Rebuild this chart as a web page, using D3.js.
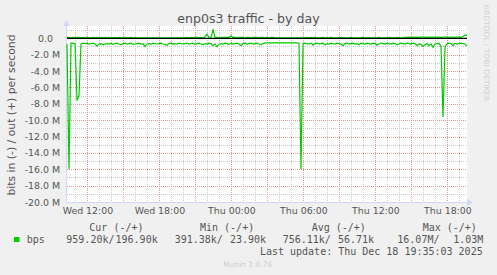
<!DOCTYPE html>
<html><head><meta charset="utf-8">
<script src="https://cdn.jsdelivr.net/npm/d3@7"></script>
<style>
html,body{margin:0;padding:0;background:#F0F0F0;}
svg{display:block;}
text{font-family:"DejaVu Sans",sans-serif;}
.mono{font-family:"DejaVu Sans Mono",monospace;white-space:pre;}
</style></head>
<body><svg id="c" width="497" height="275"></svg>
<script>
// ---- data (values in Mbit/s, 10-minute samples starting Wed 17 Dec 2025 10:18) ----
const title = "enp0s3 traffic - by day";
const yLabel = "bits in (-) / out (+) per second";
const seriesName = "bps";
const inValues = [
 0.7,16.0,0.6,0.6,0.65,7.6,7.0,0.7,0.6,0.65,0.6,0.7,0.65,0.6,0.7,0.95,0.7,0.65,0.8,0.7,
 0.65,0.7,0.6,0.75,0.65,0.6,0.7,0.8,0.65,0.6,0.7,0.65,0.6,0.75,0.7,0.65,0.6,0.7,0.65,1.0,
 0.75,0.65,0.7,0.6,0.65,0.7,0.65,0.6,0.7,0.75,0.85,0.65,0.6,0.7,0.65,0.7,0.6,0.65,0.7,0.65,
 0.6,0.7,0.65,0.6,0.75,0.65,0.6,0.7,0.8,0.65,0.7,0.6,0.65,0.9,0.7,1.05,0.75,0.65,0.7,0.6,
 0.65,0.75,0.6,0.7,0.65,0.6,0.7,0.9,0.65,0.6,0.7,0.65,0.6,0.7,0.65,0.6,0.7,0.8,0.65,0.6,
 0.55,0.55,0.55,0.55,0.55,0.55,0.55,0.55,0.55,0.55,0.55,0.55,0.55,0.55,0.55,0.55,0.6,16.0,0.7,0.6,
 0.65,0.7,0.6,0.85,0.65,0.6,0.7,0.65,0.6,0.8,0.65,0.7,0.6,0.65,0.7,0.6,0.65,0.7,0.9,0.65,
 0.6,0.7,0.65,0.6,0.7,0.65,0.8,0.6,0.65,0.7,0.6,0.65,0.7,0.6,0.65,0.85,0.7,0.6,0.65,0.7,
 0.6,0.65,0.7,0.6,0.65,0.8,0.7,0.6,0.65,0.7,0.6,0.65,0.7,0.6,0.65,0.9,0.7,0.75,1.0,0.8,
 0.65,0.9,0.7,1.1,0.7,0.65,0.6,1.0,9.6,1.0,0.7,0.6,0.65,0.9,0.6,0.7,0.65,0.6,0.65,0.7,
 0.95];
const outValues = [
 0.1,0.12,0.05,0.12,0.05,0.12,0.1,0.05,0.12,0.05,0.12,0.05,0.05,0.12,0.05,0.1,0.05,0.12,0.05,0.12,
 0.05,0.12,0.05,0.05,0.12,0.05,0.1,0.05,0.05,0.12,0.05,0.05,0.12,0.05,0.04,0.04,0.05,0.04,0.05,0.04,
 0.04,0.05,0.04,0.04,0.05,0.04,0.04,0.05,0.04,0.04,0.05,0.04,0.04,0.05,0.04,0.04,0.05,0.04,0.04,0.05,
 0.12,0.05,0.12,0.05,0.1,0.12,0.05,0.12,0.05,0.15,0.5,0.1,0.12,1.03,0.1,0.12,0.05,0.12,0.1,0.12,
 0.1,0.12,0.3,0.1,0.12,0.05,0.12,0.1,0.12,0.05,0.12,0.1,0.05,0.12,0.1,0.12,0.05,0.12,0.1,0.05,
 0.12,0.05,0.1,0.12,0.05,0.04,0.04,0.04,0.04,0.04,0.04,0.04,0.04,0.04,0.04,0.04,0.04,0.04,0.04,0.04,
 0.12,0.05,0.1,0.05,0.12,0.05,0.04,0.05,0.12,0.05,0.04,0.05,0.1,0.05,0.04,0.05,0.04,0.12,0.05,0.04,
 0.05,0.04,0.12,0.05,0.04,0.05,0.04,0.05,0.12,0.05,0.04,0.05,0.04,0.05,0.04,0.05,0.12,0.05,0.04,0.05,
 0.04,0.12,0.05,0.04,0.05,0.12,0.05,0.04,0.05,0.12,0.12,0.15,0.12,0.15,0.12,0.15,0.12,0.15,0.15,0.12,
 0.15,0.12,0.15,0.15,0.12,0.15,0.15,0.12,0.15,0.15,0.15,0.12,0.15,0.15,0.12,0.15,0.15,0.12,0.25,0.4,
 0.35];
const yTickValues = [0,-2,-4,-6,-8,-10,-12,-14,-16,-18,-20];
const yTickLabels = ["0.0","-2.0 M","-4.0 M","-6.0 M","-8.0 M","-10.0 M","-12.0 M","-14.0 M","-16.0 M","-18.0 M","-20.0 M"];
const xTickLabels = ["Wed 12:00","Wed 18:00","Thu 00:00","Thu 06:00","Thu 12:00","Thu 18:00"];
const legendHeaders = ["Cur (-/+)","Min (-/+)","Avg (-/+)","Max (-/+)"];
const legendIn = ["959.20k/","391.38k/","756.11k/","16.07M/"];
const legendOut = ["196.90k","23.90k","56.71k","1.03M"];
const lastUpdate = "Last update: Thu Dec 18 19:35:03 2025";
const footer = "Munin 2.0.76";
const watermark = "RRDTOOL / TOBI OETIKER";

// ---- layout ----
const L=67, R=467, T=26, B=202;
const start = new Date(2025,11,17,10,18);
const stepMs = 10*60*1000;
const end = new Date(start.getTime() + 400*5*60*1000);
const x = d3.scaleTime().domain([start,end]).range([L,R]);
const y = d3.scaleLinear().domain([-20,1.5]).range([B,T]);
const svg = d3.select("#c");
const FONT = "#555";

svg.append("rect").attr("width",497).attr("height",275).attr("fill","#F0F0F0");
svg.append("rect").attr("x",L).attr("y",T).attr("width",R-L).attr("height",B-T).attr("fill","#fff");

// grid
const g = svg.append("g").attr("shape-rendering","crispEdges");
const minorX = d3.timeHour.every(1).range(start,end);
const majorX = d3.timeHour.every(3).range(start,end);
g.selectAll(".vx").data(minorX).join("line")
 .attr("x1",d=>Math.round(x(d))+0.5).attr("x2",d=>Math.round(x(d))+0.5).attr("y1",T).attr("y2",B)
 .attr("stroke","#c8c8c8").attr("stroke-dasharray","1,1");
const minorY = d3.range(-19,2,2);
g.selectAll(".hy").data(minorY).join("line")
 .attr("x1",L).attr("x2",R).attr("y1",d=>Math.round(y(d))+0.5).attr("y2",d=>Math.round(y(d))+0.5)
 .attr("stroke","#c8c8c8").attr("stroke-dasharray","1,1");
g.selectAll(".vX").data(majorX).join("line")
 .attr("x1",d=>Math.round(x(d))+0.5).attr("x2",d=>Math.round(x(d))+0.5).attr("y1",T).attr("y2",B)
 .attr("stroke","#ec9494").attr("stroke-dasharray","1,1");
g.selectAll(".hY").data(yTickValues).join("line")
 .attr("x1",L).attr("x2",R).attr("y1",d=>Math.round(y(d))+0.5).attr("y2",d=>Math.round(y(d))+0.5)
 .attr("stroke","#ec9494").attr("stroke-dasharray","1,1");

// axes
const AX="#CFD6F8";
svg.append("line").attr("x1",L).attr("x2",R+2).attr("y1",B+0.5).attr("y2",B+0.5).attr("stroke",AX);
svg.append("line").attr("x1",L-0.5).attr("x2",L-0.5).attr("y1",B).attr("y2",T-2).attr("stroke",AX);
svg.append("path").attr("d",`M${R+6},${B+0.5}L${R},${B-3}L${R},${B+4}Z`).attr("fill",AX);
svg.append("path").attr("d",`M${L-0.5},${T-6}L${L-4},${T}L${L+3},${T}Z`).attr("fill",AX);

// data lines
const t = i => new Date(start.getTime()+i*stepMs);
const line = d3.line().x((d,i)=>x(t(i))).y(d=>y(d));
svg.append("path").datum(outValues).attr("d",line).attr("fill","none").attr("stroke","#00cc00").attr("stroke-width",1.2);
svg.append("line").attr("x1",L).attr("x2",R).attr("y1",y(0)).attr("y2",y(0)).attr("stroke","#000").attr("stroke-width",1.3);
svg.append("path").datum(inValues.map(v=>-v)).attr("d",line).attr("fill","none").attr("stroke","#00cc00").attr("stroke-width",1.2);

// y tick labels
const yAxis = d3.axisLeft(y).tickValues(yTickValues).tickSize(0).tickPadding(0)
 .tickFormat((d,i)=>yTickLabels[i]);
const ya = svg.append("g").attr("transform",`translate(${L-7},0)`).call(yAxis);
ya.select(".domain").remove();
ya.selectAll("text").attr("font-family","DejaVu Sans").attr("font-size",9.4).attr("fill",FONT)
 .attr("dx",d=>d===0?-7:0);

// x tick labels
const xTicks = d3.timeHour.every(6).range(start,end);
const xAxis = d3.axisBottom(x).tickValues(xTicks).tickSize(0).tickPadding(0)
 .tickFormat((d,i)=>xTickLabels[i]);
const xa = svg.append("g").attr("transform",`translate(0,${B+5})`).call(xAxis);
xa.select(".domain").remove();
xa.selectAll("text").attr("font-family","DejaVu Sans").attr("font-size",9.4).attr("fill",FONT);

// titles
svg.append("text").attr("x",248.5).attr("y",22.5).attr("text-anchor","middle")
 .attr("font-size",12.6).attr("fill",FONT).text(title);
svg.append("text").attr("transform","translate(15,115) rotate(-90)").attr("text-anchor","middle")
 .attr("font-size",10.8).attr("fill",FONT).text(yLabel);
svg.append("text").attr("transform","translate(484,53) rotate(90)").attr("text-anchor","middle")
 .attr("font-size",7.5).attr("fill","#d0d0d0").text(watermark);

// legend
const hx=[89.3,200,311.7,422.7];
svg.selectAll(".lh").data(legendHeaders).join("text").attr("class","mono")
 .attr("x",(d,i)=>hx[i]).attr("y",231).attr("font-size",10).attr("fill",FONT).text(d=>d);
svg.append("rect").attr("x",14).attr("y",237).attr("width",5.5).attr("height",5).attr("fill","#00cc00");
svg.append("text").attr("class","mono").attr("x",26.7).attr("y",243).attr("font-size",10).attr("fill",FONT).text(seriesName);
const ix=[66.3,174.7,282.7,397.3], ox=[157.7,266,374,483.3];
svg.selectAll(".li").data(legendIn).join("text").attr("class","mono")
 .attr("x",(d,i)=>ix[i]).attr("y",243).attr("font-size",10).attr("fill",FONT).text(d=>d);
svg.selectAll(".lo").data(legendOut).join("text").attr("class","mono").attr("text-anchor","end")
 .attr("x",(d,i)=>ox[i]).attr("y",243).attr("font-size",10).attr("fill",FONT).text(d=>d);
svg.append("text").attr("class","mono").attr("x",482.7).attr("y",255).attr("text-anchor","end")
 .attr("font-size",10).attr("fill",FONT).text(lastUpdate);
svg.append("text").attr("x",247.7).attr("y",267).attr("text-anchor","middle")
 .attr("font-size",7.5).attr("fill","#cccccc").text(footer);
</script></body></html>
